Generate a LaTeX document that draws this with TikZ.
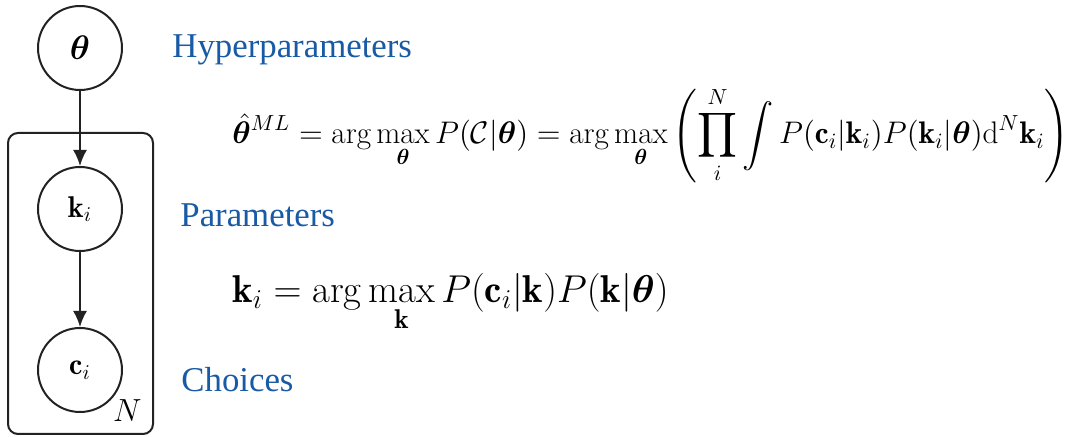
\RequirePackage{fix-cm}
\documentclass[tikz,border=0pt]{standalone}
\usepackage{amsmath,amssymb,bm}
\usepackage{fontspec}
\newfontfamily\labelfont{Liberation Serif}
\usepackage{xcolor}
\definecolor{lblblue}{RGB}{25,90,165}
\definecolor{inkgray}{RGB}{34,34,34}
\usetikzlibrary{arrows.meta,positioning}

\begin{document}
\begin{tikzpicture}[
    x=0.5pt, y=-0.5pt,
    node distance=37.5pt,
    var/.style={circle, draw=inkgray, line width=1pt, minimum size=42pt, inner sep=0pt, font=\fontsize{15}{17}\selectfont},
    plate/.style={draw=inkgray, line width=1pt, rounded corners=5pt},
    lbl/.style={anchor=base west, inner sep=0pt, text=lblblue, font=\labelfont\fontsize{17.4}{20}\selectfont},
    eqn/.style={anchor=west, inner sep=0pt},
    arr/.style={-{Latex[length=8pt,width=7pt]}, draw=inkgray, line width=1pt}
]
  \useasboundingbox (0,0) rectangle (1070,437);

  % graphical model
  \node[var, font=\fontsize{17}{20}\selectfont] (theta) at (80,48) {$\boldsymbol{\theta}$};
  \node[var, below=of theta] (k) {$\mathbf{k}_{i}$};
  \node[var, below=of k]     (c) {$\mathbf{c}_{i}$};
  \draw[plate] (8,133) rectangle (153,434);
  \node[anchor=base east, inner sep=0pt, font=\fontsize{16}{18}\selectfont] (N) at (142,422) {$N$};

  \draw[arr] (theta) -- (k);
  \draw[arr] (k) -- (c);

  % labels
  \node[lbl] (hyp)  at (172,58)  {Hyperparameters};
  \node[lbl] (par)  at (180,227) {Parameters};
  \node[lbl] (cho)  at (181,392) {Choices};

  % equations
  \node[eqn, font=\fontsize{15.6}{18}\selectfont] (eqml) at (232,135)
    {$\displaystyle \hat{\boldsymbol{\theta}}^{ML} = \arg\max_{\boldsymbol{\theta}} P(\mathcal{C}|\boldsymbol{\theta})
      = \arg\max_{\boldsymbol{\theta}} \left(\prod_{i}^{N}\int P(\mathbf{c}_i|\mathbf{k}_i)P(\mathbf{k}_i|\boldsymbol{\theta})\mathrm{d}^N\mathbf{k}_i\right)$};
  \node[eqn, font=\fontsize{19.4}{22}\selectfont] (eqk) at (232,303)
    {$\displaystyle \mathbf{k}_i = \arg\max_{\mathbf{k}} P(\mathbf{c}_i|\mathbf{k})P(\mathbf{k}|\boldsymbol{\theta})$};
\end{tikzpicture}
\end{document}
